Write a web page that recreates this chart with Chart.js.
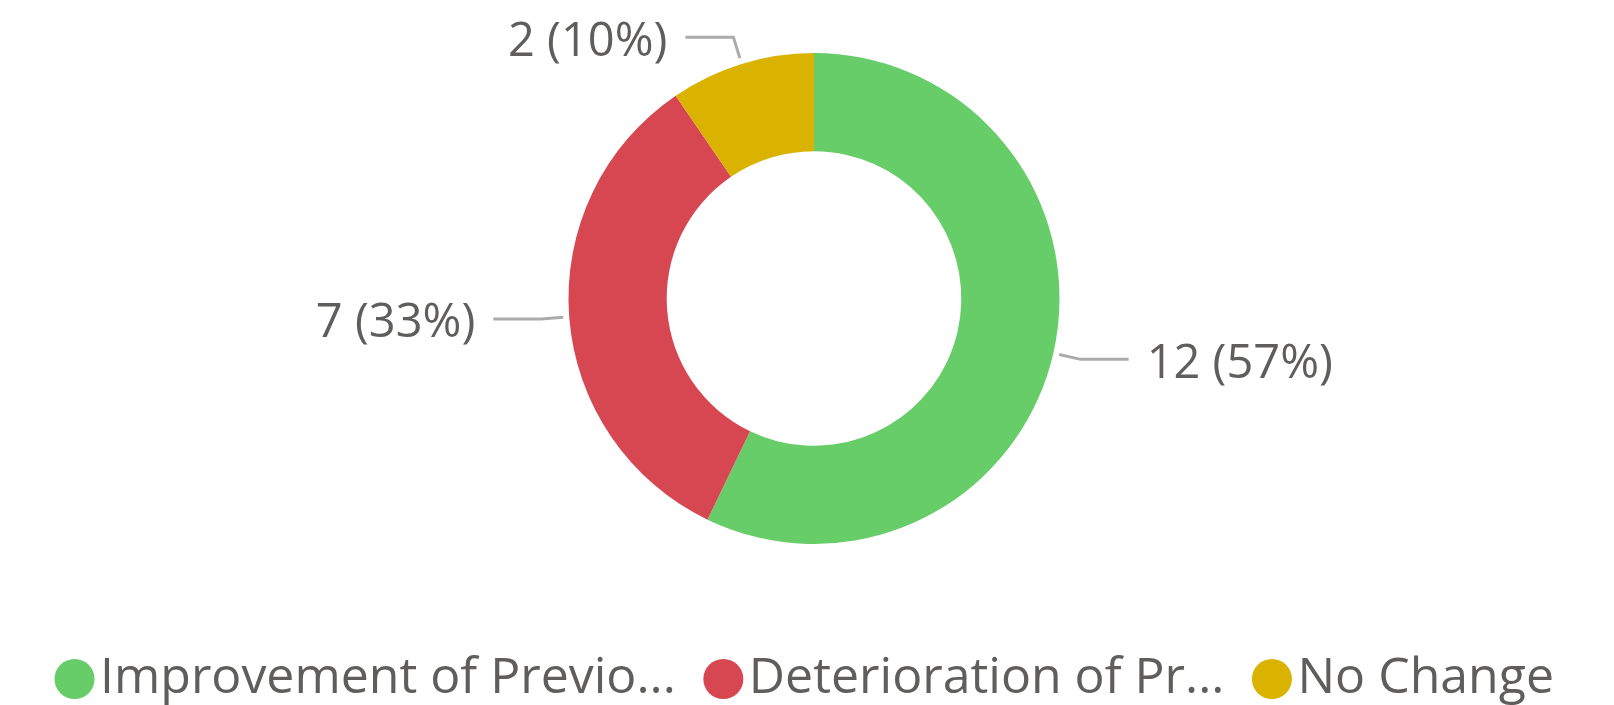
<!DOCTYPE html>
<html>
<head>
<meta charset="utf-8">
<script src="https://cdn.jsdelivr.net/npm/chart.js@4"></script>
<style>
  html, body { margin: 0; padding: 0; background: #fff; }
  #wrap { width: 1614px; height: 705px; }
</style>
</head>
<body>
<div id="wrap"><canvas id="myChart" width="1614" height="705"></canvas></div>
<script>
const categories = ["Improvement of Previo...", "Deterioration of Pr...", "No Change"];
const counts = [12, 7, 2];
const sliceColors = ["#67CD68", "#D74752", "#D9B300"];

const textColor = "#605E5C";
const fontName = "'Open Sans', 'Noto Sans', sans-serif";

// leader lines + "n (p%)" labels outside the ring
const outsideLabels = {
  id: 'outsideLabels',
  afterDatasetsDraw(chart) {
    const ctx = chart.ctx;
    const meta = chart.getDatasetMeta(0);
    const total = counts.reduce((a, b) => a + b, 0);
    ctx.save();
    ctx.font = "47px " + fontName;
    ctx.fillStyle = textColor;
    ctx.textBaseline = 'middle';
    meta.data.forEach((arc, i) => {
      const mid = (arc.startAngle + arc.endAngle) / 2;
      const cos = Math.cos(mid), sin = Math.sin(mid);
      const r = arc.outerRadius;
      const x0 = arc.x + (r + 6) * cos, y0 = arc.y + (r + 6) * sin;
      const x1 = arc.x + (r + 28) * cos, y1 = arc.y + (r + 28) * sin;
      const dir = cos >= 0 ? 1 : -1;
      const x2 = x1 + dir * 48;
      ctx.strokeStyle = "#ABABAB";
      ctx.lineWidth = 3;
      ctx.beginPath();
      ctx.moveTo(x0, y0);
      ctx.lineTo(x1, y1);
      ctx.lineTo(x2, y1);
      ctx.stroke();
      const pct = Math.round(counts[i] / total * 100);
      ctx.textAlign = dir > 0 ? 'left' : 'right';
      ctx.fillText(counts[i] + " (" + pct + "%)", x2 + dir * 18, y1 + 5);
    });
    ctx.restore();
  }
};

const ctx = document.getElementById('myChart').getContext('2d');
new Chart(ctx, {
  type: 'doughnut',
  data: {
    labels: categories,
    datasets: [{
      data: counts,
      backgroundColor: sliceColors,
      borderWidth: 0,
      cutout: '60%'
    }]
  },
  options: {
    responsive: false,
    animation: false,
    layout: {
      padding: { top: 53, left: 14, right: 0, bottom: -9 }
    },
    plugins: {
      tooltip: { enabled: false },
      legend: {
        position: 'bottom',
        title: {
          display: true,
          text: ' ',
          font: { size: 12 },
          padding: { top: 0, bottom: 48.6 }
        },
        labels: {
          usePointStyle: true,
          pointStyle: 'circle',
          boxWidth: 1,
          boxHeight: 28.3,
          padding: 47,
          color: textColor,
          font: { family: fontName, size: 50 }
        }
      }
    }
  },
  plugins: [outsideLabels]
});
</script>
</body>
</html>
